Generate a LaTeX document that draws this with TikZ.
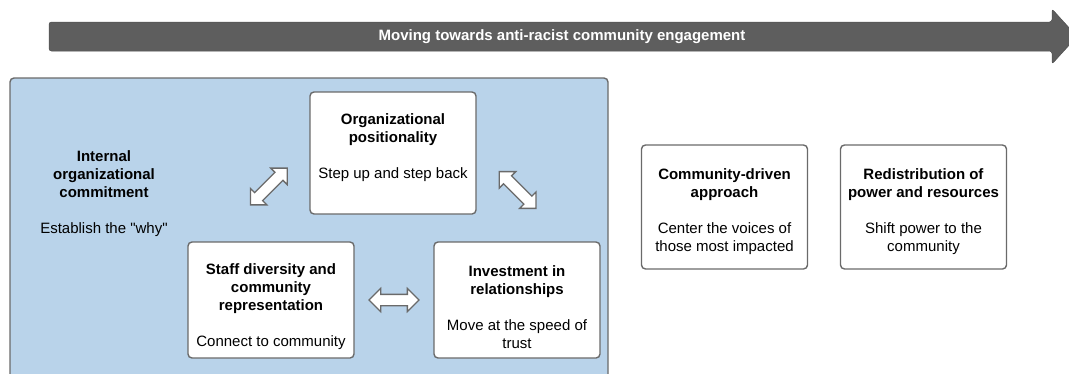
\documentclass[tikz,border=0pt]{standalone}
\usepackage{fontspec}
\setmainfont{Liberation Sans}
\usetikzlibrary{shapes.arrows,calc}
\definecolor{panelblue}{HTML}{B9D3EA}
\definecolor{edgegray}{HTML}{6A6A6A}
\definecolor{bandgray}{HTML}{5E5E5E}
% a straight double quote, set as a glyph so no ligature mapping curls it
\newcommand{\dq}{\XeTeXglyph\XeTeXcharglyph34\relax}
\begin{document}
\begin{tikzpicture}[x=1pt,y=-1pt,
  card/.style={draw=edgegray, line width=1.4pt, fill=white, rounded corners=4pt,
    minimum width=166pt, inner sep=0pt},
  cardtext/.style={align=center, font=\fontsize{15}{18}\selectfont, inner sep=0pt},
  twoway/.style={double arrow, draw=edgegray, fill=white, line width=1.3pt,
    inner sep=5pt, double arrow head extend=6pt, minimum height=#1},
  twoway/.default=52pt
]
% page frame
\clip (0,0) rectangle (1069,373);

% progress band across the top
\fill[bandgray, draw=bandgray!85!black, line width=0.5pt, rounded corners=2.5pt]
  (49,22) -- (1052,22) -- (1052,9) -- (1077,36.5)
  -- (1052,64) -- (1052,51) -- (49,51) -- cycle;
\node[text=white, font=\bfseries\fontsize{15}{18}\selectfont] (band) at (562,37)
  {Moving towards anti-racist community engagement};

% internal panel
\draw[draw=edgegray, line width=1.4pt, fill=panelblue, rounded corners=4pt]
  (10,78) rectangle (608,400);
\node[cardtext] (internal) at (104,193.5)
  {\textbf{Internal}\\\textbf{organizational}\\\textbf{commitment}\\[18pt]Establish the \dq why\dq};

% cards inside the panel
\node[card, minimum height=122pt] (pos) at (393,153) {};
\node[cardtext] (posT) at ($(pos.center)+(0,-5.5)$)
  {\textbf{Organizational}\\\textbf{positionality}\\[18pt]Step up and step back};

\node[card, minimum height=116pt] (staff) at (271,300) {};
\node[cardtext] (staffT) at ($(staff.center)+(0,7)$)
  {\textbf{Staff diversity and}\\\textbf{community}\\\textbf{representation}\\[18pt]Connect to community};

\node[card, minimum height=116pt] (invest) at (517,300) {};
\node[cardtext] (investT) at ($(invest.center)+(0,7)$)
  {\textbf{Investment in}\\\textbf{relationships}\\[18pt]Move at the speed of\\trust};

% two-way links between the cards
\node[twoway, rotate=45] (l1) at ($(pos.west)+(-40.5,33.5)$) {};
\node[twoway, rotate=-45] (l2) at ($(pos.east)+(41,37)$) {};
\node[twoway=50pt] (l3) at ($(staff.east)!0.5!(invest.west)$) {};

% cards outside the panel
\node[card, minimum height=124pt] (comm) at (724.5,207) {};
\node[cardtext] (commT) at ($(comm.center)+(0,4.5)$)
  {\textbf{Community-driven}\\\textbf{approach}\\[18pt]Center the voices of\\those most impacted};

\node[card, minimum height=124pt] (redis) at (923.5,207) {};
\node[cardtext] (redisT) at ($(redis.center)+(0,4.5)$)
  {\textbf{Redistribution of}\\\textbf{power and resources}\\[18pt]Shift power to the\\community};
\end{tikzpicture}
\end{document}
